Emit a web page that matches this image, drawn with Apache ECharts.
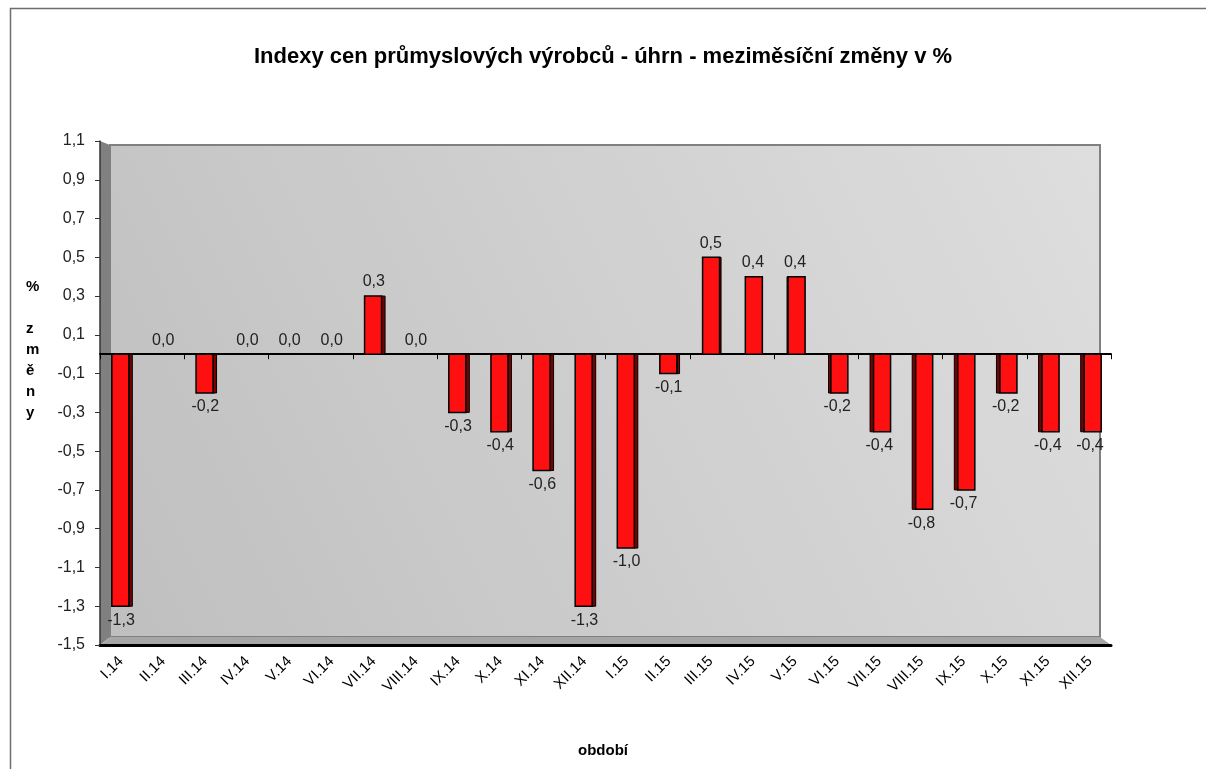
<!DOCTYPE html>
<html>
<head>
<meta charset="utf-8">
<script src="https://cdn.jsdelivr.net/npm/echarts@6/dist/echarts.min.js"></script>
<style>
html, body { margin: 0; padding: 0; background: #fff; }
#main { width: 1206px; height: 769px; }
</style>
</head>
<body>
<div id="main"></div>
<script>
var categories = ['I.14', 'II.14', 'III.14', 'IV.14', 'V.14', 'VI.14', 'VII.14', 'VIII.14',
    'IX.14', 'X.14', 'XI.14', 'XII.14', 'I.15', 'II.15', 'III.15', 'IV.15', 'V.15', 'VI.15',
    'VII.15', 'VIII.15', 'IX.15', 'X.15', 'XI.15', 'XII.15'];
var values = [-1.3, 0.0, -0.2, 0.0, 0.0, 0.0, 0.3, 0.0, -0.3, -0.4, -0.6, -1.3,
    -1.0, -0.1, 0.5, 0.4, 0.4, -0.2, -0.4, -0.8, -0.7, -0.2, -0.4, -0.4];
var yTicks = [-1.5, -1.3, -1.1, -0.9, -0.7, -0.5, -0.3, -0.1, 0.1, 0.3, 0.5, 0.7, 0.9, 1.1];

var FONT = 'Liberation Sans, Arial, sans-serif';
// plot area (axes) in px
var GL = 100, GT = 141, GR = 1111, GB = 645;

function fmt(v) {
    return (Math.round(v * 10) / 10).toFixed(1).replace('.', ',');
}

var chart = echarts.init(document.getElementById('main'));

// 3D-ish bar: red front face plus a dark side strip
function renderBar(params, api) {
    var v = api.value(1);
    var p = api.coord([api.value(0), v]);
    var z = api.coord([api.value(0), 0]);
    var w = 17;
    var dx = Math.max(-3.5, Math.min(3.5, (760 - p[0]) * 0.03));
    var x0 = p[0] - w / 2 - dx / 2 + 1;
    var top = Math.min(p[1], z[1]), h = Math.abs(p[1] - z[1]);
    var side = dx >= 0 ? { x: x0 + w, y: top, width: dx, height: h }
                       : { x: x0 + dx, y: top, width: -dx, height: h };
    return {
        type: 'group',
        children: [
            { type: 'rect', shape: side, style: { fill: '#7a0000', stroke: '#000', lineWidth: 1 } },
            { type: 'rect', shape: { x: x0, y: top, width: w, height: h },
              style: { fill: '#ff1010', stroke: '#000', lineWidth: 1.5 } }
        ]
    };
}

var option = {
    animation: false,
    textStyle: { fontFamily: FONT },
    title: {
        text: 'Indexy cen průmyslových výrobců - úhrn - meziměsíční změny v %',
        left: 'center',
        top: 41,
        textStyle: { fontFamily: FONT, fontSize: 22, fontWeight: 'bold', color: '#000' }
    },
    graphic: [
        // outer frame
        { type: 'rect', z: -20, silent: true,
          shape: { x: 10.5, y: 8.5, width: 1220, height: 800 },
          style: { fill: 'none', stroke: '#6e6e6e', lineWidth: 1.5 } },
        // back wall
        { type: 'rect', z: -10, silent: true,
          shape: { x: GL + 10, y: GT + 4, width: GR - GL - 21, height: GB - GT - 12 },
          style: {
              fill: new echarts.graphic.LinearGradient(0, 1, 1, 0, [
                  { offset: 0, color: '#bfbfbf' },
                  { offset: 1, color: '#dedede' }
              ]),
              stroke: '#808080', lineWidth: 2
          } },
        // left side wall
        { type: 'polygon', z: -9, silent: true,
          shape: { points: [[GL, GT], [GL + 10, GT + 4], [GL + 10, GB - 8], [GL, GB]] },
          style: { fill: '#808080' } },
        // floor
        { type: 'polygon', z: -9, silent: true,
          shape: { points: [[GL, GB], [GL + 10, GB - 8], [GR - 11, GB - 8], [GR, GB]] },
          style: { fill: '#a6a6a6' } },
        // y axis name
        { type: 'text', left: 26, top: 276, silent: true,
          style: { text: '%\n\nz\nm\ně\nn\ny', fill: '#000', font: 'bold 15px ' + FONT,
                   lineHeight: 21, align: 'center' } },
        // x axis name
        { type: 'text', left: 'center', top: 743, silent: true,
          style: { text: 'období', fill: '#000', font: 'bold 15px ' + FONT } }
    ],
    grid: { left: GL, top: GT, width: GR - GL, height: GB - GT, containLabel: false },
    xAxis: [{
        type: 'category',
        data: categories,
        position: 'bottom',
        axisLine: { onZero: false, lineStyle: { color: '#000', width: 3 } },
        axisTick: { show: false },
        axisLabel: {
            rotate: 45, color: '#000', fontSize: 15, fontFamily: FONT,
            margin: 14, interval: 0
        }
    }, {
        type: 'category',
        data: categories,
        position: 'top',
        axisLine: { onZero: true, lineStyle: { color: '#000', width: 2 } },
        axisTick: { show: true, inside: true, length: 5, lineStyle: { color: '#000', width: 1 } },
        axisLabel: { show: false }
    }],
    yAxis: {
        type: 'value',
        min: -1.5,
        max: 1.1,
        axisLine: { show: true, lineStyle: { color: '#333', width: 1.5 } },
        axisTick: { show: true, length: 5, customValues: yTicks, lineStyle: { color: '#333' } },
        axisLabel: {
            customValues: yTicks, color: '#222', fontSize: 16, fontFamily: FONT, margin: 15,
            formatter: function (v) { return fmt(v); }
        },
        splitLine: { show: false }
    },
    series: [{
        type: 'custom',
        xAxisIndex: 0,
        renderItem: renderBar,
        encode: { x: 0, y: 1 },
        data: values.map(function (v, i) { return [i, v]; }),
        z: 3
    }, {
        // labels placed with the library's own bar layout
        type: 'bar',
        xAxisIndex: 0,
        barWidth: 17,
        itemStyle: { color: 'rgba(0,0,0,0)' },
        data: values.map(function (v) {
            return { value: v, label: { position: v < 0 ? 'bottom' : 'top' } };
        }),
        label: {
            show: true, distance: 6, color: '#222', fontSize: 16, fontFamily: FONT,
            formatter: function (p) { return fmt(p.value); }
        },
        z: 4
    }]
};

chart.setOption(option);
</script>
</body>
</html>
